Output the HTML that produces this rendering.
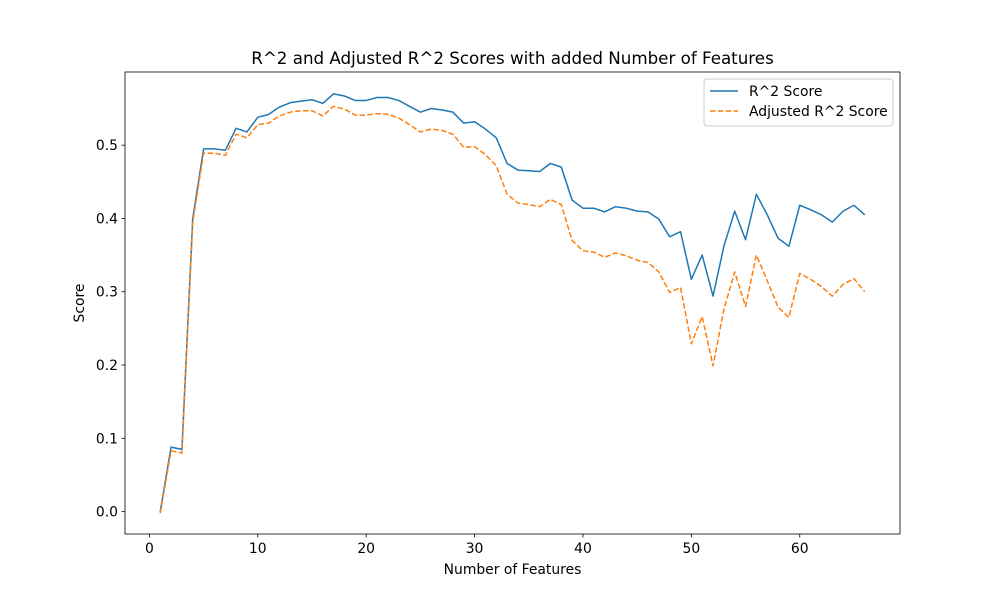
<!DOCTYPE html>
<html><head><meta charset="utf-8"><style>
body{margin:0;background:#fff;font-family:"DejaVu Sans","Liberation Sans",sans-serif;}
svg text{font-family:"DejaVu Sans","Liberation Sans",sans-serif;fill:#000;}
</style></head><body>
<svg id="chart" width="1000" height="600" xmlns="http://www.w3.org/2000/svg">
<rect width="1000" height="600" fill="#fff"/>
<g id="plot"></g>
</svg>
<script>
const features = Array.from({length:66},(_,i)=>i+1);
const r2 = [0.0,0.088,0.085,0.40,0.495,0.495,0.493,0.523,0.518,0.538,0.542,0.552,0.558,0.560,0.562,0.557,0.570,0.567,0.561,0.561,0.565,0.565,0.561,0.553,0.545,0.550,0.548,0.545,0.530,0.532,0.522,0.510,0.475,0.466,0.465,0.464,0.475,0.470,0.425,0.414,0.414,0.409,0.416,0.414,0.410,0.409,0.399,0.375,0.382,0.317,0.350,0.294,0.362,0.410,0.371,0.433,0.405,0.373,0.362,0.418,0.412,0.405,0.395,0.410,0.418,0.405];
const adjR2 = [-0.002,0.083,0.080,0.395,0.489,0.489,0.486,0.515,0.510,0.528,0.530,0.540,0.545,0.547,0.547,0.540,0.553,0.549,0.541,0.541,0.543,0.542,0.537,0.528,0.518,0.522,0.520,0.515,0.497,0.498,0.487,0.472,0.433,0.421,0.419,0.416,0.426,0.419,0.370,0.356,0.354,0.347,0.353,0.349,0.343,0.340,0.327,0.299,0.306,0.229,0.266,0.199,0.276,0.327,0.280,0.350,0.315,0.279,0.265,0.325,0.317,0.307,0.294,0.310,0.318,0.300];
const xTicks = [0,10,20,30,40,50,60];
const yTicks = [0.0,0.1,0.2,0.3,0.4,0.5];

const L=125,R=900,T=72,B=534;
const x0=-2.25,x1=69.25,y0=-0.0305,y1=0.5998;
const sx=v=>L+(v-x0)/(x1-x0)*(R-L);
const sy=v=>B-(v-y0)/(y1-y0)*(B-T);
const NS="http://www.w3.org/2000/svg";
const g=document.getElementById('plot');
function mk(tag,attrs,parent){const e=document.createElementNS(NS,tag);for(const k in attrs)e.setAttribute(k,attrs[k]);(parent||g).appendChild(e);return e;}

xTicks.forEach(t=>{
  const x=sx(t);
  const l=mk('line',{x1:x,x2:x,y1:B,y2:B+3.5,stroke:'#000','stroke-width':0.8});
  
  
  const tx=mk('text',{x:x,y:B+19,'font-size':13.9,'text-anchor':'middle'});
  tx.textContent=t;
  
  
});
yTicks.forEach(t=>{
  const y=sy(t);
  const l=mk('line',{x1:L-3.5,x2:L,y1:y,y2:y,stroke:'#000','stroke-width':0.8});
  
  
  const tx=mk('text',{x:L-7,y:y+5,'font-size':13.9,'text-anchor':'end'});
  tx.textContent=t.toFixed(1);
  
  
});

function line(vals,color,dash,name){
  const p=mk('polyline',{points:vals.map((v,i)=>sx(features[i])+','+sy(v)).join(' '),fill:'none',stroke:color,'stroke-width':1.5,'stroke-dasharray':dash||'none','stroke-linejoin':'round'});
  
  
}
line(r2,'#1f77b4',null,'r2-line');
line(adjR2,'#ff7f0e','5.5,2.4','adjusted-r2-line');

const fr=mk('rect',{x:L,y:T,width:R-L,height:B-T,fill:'none',stroke:'#000','stroke-width':0.8});



const title=mk('text',{x:(L+R)/2,y:T-8,'font-size':16.7,'text-anchor':'middle'});
title.textContent='R^2 and Adjusted R^2 Scores with added Number of Features';


const xl=mk('text',{x:(L+R)/2,y:B+40,'font-size':13.9,'text-anchor':'middle'});
xl.textContent='Number of Features';


const yl=mk('text',{x:0,y:0,'font-size':13.9,'text-anchor':'middle',transform:`translate(84,${(T+B)/2}) rotate(-90)`});
yl.textContent='Score';



const lg=mk('g',{});


mk('rect',{x:704,y:79,width:189,height:47,rx:3,fill:'#fff',stroke:'#ccc','stroke-width':1},lg);
const e1=mk('line',{x1:710,x2:738,y1:91,y2:91,stroke:'#1f77b4','stroke-width':1.5},lg);


const t1=mk('text',{x:749,y:96,'font-size':13.9},lg);t1.textContent='R^2 Score';


const e2=mk('line',{x1:710,x2:738,y1:111,y2:111,stroke:'#ff7f0e','stroke-width':1.5,'stroke-dasharray':'5.5,2.4'},lg);


const t2=mk('text',{x:749,y:116,'font-size':13.9},lg);t2.textContent='Adjusted R^2 Score';


</script>
</body></html>
